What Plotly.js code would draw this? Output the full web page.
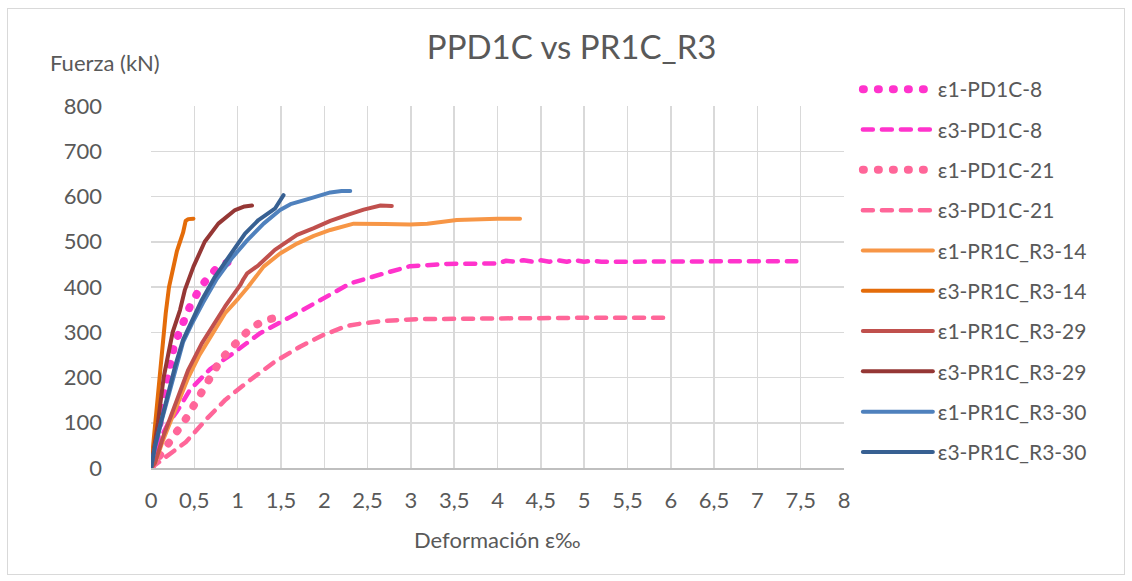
<!DOCTYPE html>
<html>
<head>
<meta charset="utf-8">
<script src="https://cdn.plot.ly/plotly-3.0.1.min.js"></script>
<style>
  html, body { margin: 0; padding: 0; background: #ffffff; }
  #wrap { position: relative; width: 1132px; height: 581px; }
  #chart { width: 1132px; height: 581px; }
  #frame { position: absolute; left: 7px; top: 8px; width: 1116px; height: 565px; border: 1px solid #d9d9d9; pointer-events: none; }
  .js-line, .legendlines path { stroke-linecap: round; stroke-linejoin: round; }
</style>
</head>
<body>
<div id="wrap">
  <div id="chart"></div>
  <div id="frame"></div>
</div>
<script>
// ---- data ----
const seriesNames = ["ε1-PD1C-8", "ε3-PD1C-8", "ε1-PD1C-21", "ε3-PD1C-21",
  "ε1-PR1C_R3-14", "ε3-PR1C_R3-14", "ε1-PR1C_R3-29", "ε3-PR1C_R3-29",
  "ε1-PR1C_R3-30", "ε3-PR1C_R3-30"];

const e1_PD1C_8_x = [0, 0.05, 0.1, 0.146, 0.185, 0.22, 0.26, 0.323, 0.385, 0.46, 0.554, 0.655, 0.777, 0.87, 0.95];
const e1_PD1C_8_y = [0, 45, 100, 158, 195, 233, 265, 299, 331, 362, 393, 421, 445, 455, 460];

const e3_PD1C_8_x = [0, 0.05, 0.1, 0.2, 0.3, 0.45, 0.68, 0.95, 1.26, 1.61, 1.96, 2.3, 2.69, 2.99, 3.42, 4.0, 4.1, 4.2, 4.3, 4.4, 4.5, 4.6, 4.7, 4.8, 4.9, 5.0, 5.1, 5.2, 5.5, 6.0, 6.5, 7.0, 7.45];
const e3_PD1C_8_y = [0, 30, 62, 99, 125, 173, 218, 254, 298, 334, 371, 408, 430, 446, 451, 452, 458, 456, 459, 456, 459, 456, 459, 456, 459, 456, 458, 456, 456, 457, 457, 457, 457];

const e1_PD1C_21_x = [0, 0.09, 0.2, 0.31, 0.4, 0.5, 0.585, 0.67, 0.77, 0.88, 0.99, 1.14, 1.3, 1.47];
const e1_PD1C_21_y = [0, 24, 51, 79, 108, 140, 169, 200, 228, 256, 279, 307, 326, 333];

const e3_PD1C_21_x = [0, 0.05, 0.1, 0.2, 0.3, 0.4, 0.5, 0.65, 0.86, 1.12, 1.43, 1.72, 1.99, 2.26, 2.45, 2.69, 3.07, 3.5, 3.84, 4.46, 5.0, 5.5, 5.96];
const e3_PD1C_21_y = [0, 7, 15, 28, 40, 57, 78, 110, 151, 191, 235, 268, 294, 314, 320, 325, 329, 330, 331, 332, 332, 332, 332];

const e1_R3_14_x = [0, 0.05, 0.14, 0.24, 0.34, 0.43, 0.56, 0.68, 0.855, 1.01, 1.12, 1.3, 1.49, 1.686, 1.88, 2.07, 2.34, 2.7, 2.99, 3.19, 3.53, 4.0, 4.26];
const e1_R3_14_y = [0, 12, 62, 110, 158, 200, 250, 286, 342, 375, 400, 445, 474, 496, 513, 526, 540, 539, 538, 540, 548, 551, 551];

const e3_R3_14_x = [0, 0.05, 0.1, 0.14, 0.17, 0.208, 0.257, 0.3, 0.335, 0.37, 0.4, 0.43, 0.49];
const e3_R3_14_y = [0, 100, 200, 290, 342, 400, 445, 480, 500, 520, 546, 550, 551];

const e1_R3_29_x = [0, 0.046, 0.142, 0.24, 0.33, 0.43, 0.585, 0.67, 0.855, 1.03, 1.045, 1.066, 1.11, 1.24, 1.43, 1.686, 1.88, 2.07, 2.26, 2.455, 2.65, 2.78];
const e1_R3_29_y = [0, 11, 70, 120, 170, 217, 275, 300, 357, 404, 412, 417, 430, 448, 482, 515, 530, 546, 559, 571, 580, 579];

const e3_R3_29_x = [0, 0.08, 0.146, 0.22, 0.25, 0.335, 0.39, 0.49, 0.62, 0.777, 0.97, 1.08, 1.166];
const e3_R3_29_y = [0, 100, 200, 280, 300, 349, 393, 445, 500, 540, 570, 578, 580];

const e1_R3_30_x = [0, 0.046, 0.122, 0.2, 0.277, 0.37, 0.47, 0.6, 0.76, 0.93, 1.11, 1.3, 1.49, 1.61, 1.84, 2.07, 2.2, 2.3];
const e1_R3_30_y = [0, 46, 104, 160, 218, 278, 318, 365, 418, 463, 503, 540, 570, 583, 596, 609, 612, 612];

const e3_R3_30_x = [0, 0.046, 0.122, 0.2, 0.277, 0.37, 0.47, 0.585, 0.74, 0.93, 1.085, 1.24, 1.43, 1.53];
const e3_R3_30_y = [0, 48, 107, 165, 224, 283, 322, 371, 423, 474, 518, 548, 573, 603];

const xTickVals = [0, 0.5, 1, 1.5, 2, 2.5, 3, 3.5, 4, 4.5, 5, 5.5, 6, 6.5, 7, 7.5, 8];
const xTickText = ["0", "0,5", "1", "1,5", "2", "2,5", "3", "3,5", "4", "4,5", "5", "5,5", "6", "6,5", "7", "7,5", "8"];
const yTickVals = [0, 100, 200, 300, 400, 500, 600, 700, 800];

// ---- styles ----
const FONT = "Lato, 'Open Sans', sans-serif";
const TXT = "#595959";
const DOT = "1px,14px";
const DASH = "10px,9px";

const xs = [e1_PD1C_8_x, e3_PD1C_8_x, e1_PD1C_21_x, e3_PD1C_21_x, e1_R3_14_x, e3_R3_14_x, e1_R3_29_x, e3_R3_29_x, e1_R3_30_x, e3_R3_30_x];
const ys = [e1_PD1C_8_y, e3_PD1C_8_y, e1_PD1C_21_y, e3_PD1C_21_y, e1_R3_14_y, e3_R3_14_y, e1_R3_29_y, e3_R3_29_y, e1_R3_30_y, e3_R3_30_y];
const colors = ["#FF33CC", "#FF33CC", "#FF6699", "#FF6699", "#F79646", "#E46C0A", "#C0504D", "#953735", "#4F81BD", "#376092"];
const dashes = [DOT, DASH, DOT, DASH, "solid", "solid", "solid", "solid", "solid", "solid"];
const widths = [8, 4.5, 8, 4.5, 4, 4, 4, 4, 4, 4];

const traces = seriesNames.map((n, i) => ({
  type: "scatter", mode: "lines", name: n,
  x: xs[i], y: ys[i], legendgroup: "g" + i,
  line: { color: colors[i], width: widths[i], dash: dashes[i] },
  hoverinfo: "skip"
}));

const layout = {
  width: 1132, height: 581,
  margin: { l: 150.7, r: 288.3, t: 106, b: 112.7, pad: 0 },
  paper_bgcolor: "#ffffff", plot_bgcolor: "#ffffff",
  font: { family: FONT, color: TXT, size: 22 },
  title: { text: "PPD1C vs PR1C_R3", x: 0.505, xanchor: "center", y: 0.919, yanchor: "middle",
           font: { family: FONT, size: 33, color: TXT } },
  showlegend: true,
  legend: { x: 1.02, xanchor: "left", y: 1.102, yanchor: "top", font: { family: FONT, size: 21, color: TXT },
            tracegroupgap: 10, itemwidth: 70, maxheight: 560, bgcolor: "rgba(0,0,0,0)" },
  xaxis: {
    range: [0, 8], tickvals: xTickVals, ticktext: xTickText, showgrid: true,
    gridcolor: "#d9d9d9", gridwidth: 1.5, zeroline: false,
    showline: true, linecolor: "#bfbfbf", linewidth: 2, ticks: "",
    ticklabelstandoff: 12, tickfont: { family: FONT, size: 22, color: TXT }, fixedrange: true
  },
  yaxis: {
    range: [0, 800], tickvals: yTickVals, showgrid: true,
    gridcolor: "#d9d9d9", gridwidth: 1.5, zeroline: false, showline: false, ticks: "",
    ticklabelstandoff: 48, tickfont: { family: FONT, size: 22, color: TXT }, fixedrange: true
  },
  annotations: [
    { text: "Fuerza (kN)", xref: "paper", yref: "paper", x: -0.148, y: 1.1215, xanchor: "left", yanchor: "middle",
      showarrow: false, font: { family: FONT, size: 22, color: TXT } },
    { text: "Deformación ε‰", xref: "paper", yref: "paper", x: 0.5, y: -0.198, xanchor: "center", yanchor: "middle",
      showarrow: false, font: { family: FONT, size: 22, color: TXT } }
  ]
};

Plotly.newPlot("chart", traces, layout, { staticPlot: true, displayModeBar: false });
</script>
</body>
</html>
